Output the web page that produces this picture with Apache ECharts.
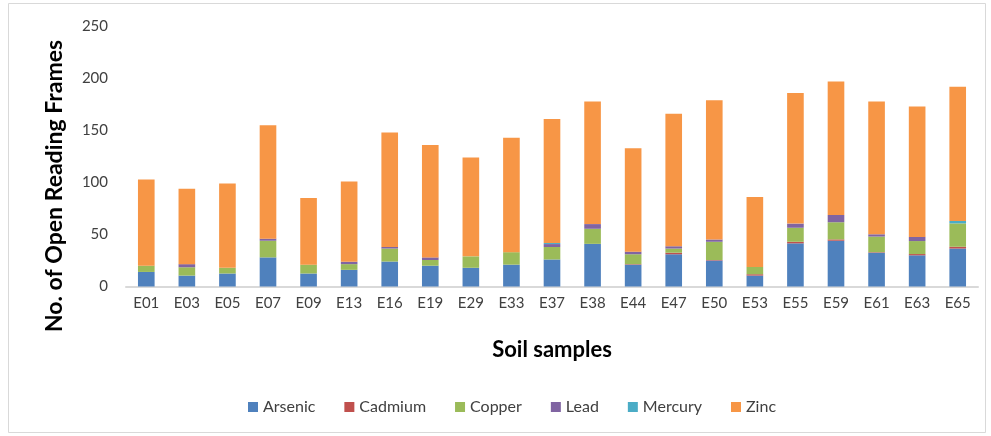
<!DOCTYPE html>
<html>
<head>
<meta charset="utf-8">
<script src="https://cdn.jsdelivr.net/npm/echarts@6/dist/echarts.min.js"></script>
<style>
  html, body { margin: 0; padding: 0; background: #ffffff; }
  #chart { width: 991px; height: 436px; }
</style>
</head>
<body>
<div id="chart"></div>
<script>
// Soil samples on the x axis
const samples = ['E01','E03','E05','E07','E09','E13','E16','E19','E29','E33','E37','E38','E44','E47','E50','E53','E55','E59','E61','E63','E65'];

// Open reading frames per heavy-metal resistance class
const arsenic = [14, 10.5, 12.5, 28, 12.5, 16, 24, 20, 18, 21, 26, 41, 21, 31, 25, 10.5, 41.5, 44, 32.5, 30, 36.5];
const cadmium = [0, 0, 0, 0, 0, 0, 0, 0, 0, 0, 0, 0, 0.5, 1.5, 0.5, 1.3, 1.5, 1.3, 0.5, 1.2, 1.7];
const copper  = [6, 8, 5.5, 16, 8.5, 5.5, 12.5, 5.5, 11, 12, 12, 14.5, 9.5, 4, 17.5, 7, 13.5, 16.5, 15, 12.5, 22.5];
const lead    = [0, 3, 0, 2, 0, 2.3, 1.5, 2.5, 0, 0, 2.8, 4.5, 2.5, 2.2, 2.2, 0, 4, 7, 2.2, 4, 0];
const mercury = [0, 0, 0, 0, 0, 0, 0, 0, 0, 0, 1, 0, 0, 0, 0, 0, 0, 0, 0, 0, 2.3];
const zinc    = [83, 72.5, 81, 109, 64, 77.2, 110, 108, 95, 110, 119.2, 118, 99.5, 127.3, 133.8, 67.2, 125.5, 128.2, 127.8, 125.3, 129];

// Y axis ticks
const yTicks = [0, 50, 100, 150, 200, 250];

const seriesDefs = [
  { name: 'Arsenic', data: arsenic, color: '#4F81BD' },
  { name: 'Cadmium', data: cadmium, color: '#C0504D' },
  { name: 'Copper',  data: copper,  color: '#9BBB59' },
  { name: 'Lead',    data: lead,    color: '#8064A2' },
  { name: 'Mercury', data: mercury, color: '#4BACC6' },
  { name: 'Zinc',    data: zinc,    color: '#F79646' }
];

const font = 'Lato, "Open Sans", sans-serif';
const chart = echarts.init(document.getElementById('chart'), null, { renderer: 'canvas' });

chart.setOption({
  animation: false,
  backgroundColor: '#ffffff',
  textStyle: { fontFamily: font },
  graphic: [
    {
      type: 'rect',
      shape: { x: 8.5, y: 3.5, width: 977, height: 429 },
      style: { fill: 'none', stroke: '#d9d9d9', lineWidth: 1 },
      z: -1
    },
    {
      type: 'text',
      x: 55, y: 186,
      rotation: Math.PI / 2,
      style: {
        text: 'No. of Open Reading Frames',
        fontFamily: font,
        fontWeight: 'bold',
        fontSize: 23,
        fill: '#000000',
        align: 'center',
        verticalAlign: 'middle'
      }
    }
  ],
  grid: { left: 126, right: 13, top: 26.5, bottom: 149.5, containLabel: false },
  legend: {
    bottom: 16,
    left: 243,
    itemWidth: 10,
    itemHeight: 10,
    itemGap: 29,
    icon: 'rect',
    textStyle: { fontFamily: font, fontSize: 16, color: '#404040' },
    data: seriesDefs.map(s => s.name)
  },
  xAxis: {
    type: 'category',
    data: samples,
    name: 'Soil samples',
    nameLocation: 'middle',
    nameGap: 52,
    nameTextStyle: { fontFamily: font, fontWeight: 'bold', fontSize: 22, color: '#000000' },
    axisLine: { lineStyle: { color: '#d9d9d9', width: 2 } },
    axisTick: { show: false },
    axisLabel: { fontFamily: font, fontSize: 15, color: '#404040', margin: 9, interval: 0 }
  },
  yAxis: {
    type: 'value',
    min: yTicks[0],
    max: yTicks[yTicks.length - 1],
    interval: yTicks[1] - yTicks[0],
    axisLine: { show: false },
    axisTick: { show: false },
    splitLine: { show: false },
    axisLabel: { fontFamily: font, fontSize: 15, color: '#404040', margin: 18 }
  },
  series: seriesDefs.map(s => ({
    name: s.name,
    type: 'bar',
    stack: 'metals',
    barWidth: '41%',
    data: s.data,
    itemStyle: { color: s.color }
  }))
});
</script>
</body>
</html>
